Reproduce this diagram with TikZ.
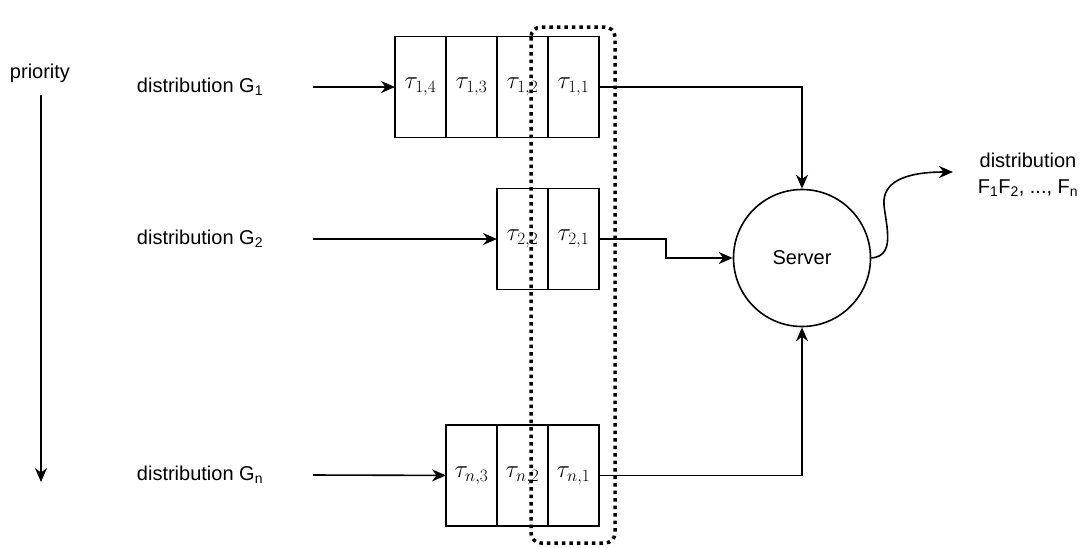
\documentclass[tikz,border=0pt]{standalone}
\usepackage{fontspec}
\setmainfont{Liberation Sans}
\usetikzlibrary{arrows.meta,positioning}

\begin{document}
\begin{tikzpicture}[x=1pt,y=-1pt,node distance=0pt,
  line width=1.6pt, >={Stealth[length=14pt,width=12pt]}]
\tikzstyle{cell}=[draw, outer sep=0pt, inner sep=0pt, minimum width=51pt,
  minimum height=101pt, font=\fontsize{24}{28}\selectfont]
\tikzstyle{lbl}=[font=\fontsize{20}{26}\selectfont, align=center]
\tikzstyle{win}=[line width=3.5pt, dash pattern=on 3.5pt off 4pt, rounded corners=10pt]
\useasboundingbox (0,0) rectangle (1083,547);
% queues
\node[cell] (q11) at (573.5,87) {$\tau_{1,1}$};
\node[cell, left=of q11] (q12) {$\tau_{1,2}$};
\node[cell, left=of q12] (q13) {$\tau_{1,3}$};
\node[cell, left=of q13] (q14) {$\tau_{1,4}$};
\node[cell] (q21) at (573.5,239) {$\tau_{2,1}$};
\node[cell, left=of q21] (q22) {$\tau_{2,2}$};
\node[cell] (qn1) at (573.5,475.5) {$\tau_{n,1}$};
\node[cell, left=of qn1] (qn2) {$\tau_{n,2}$};
\node[cell, left=of qn2] (qn3) {$\tau_{n,3}$};
% server
\node[draw, circle, minimum size=137pt, lbl] (srv) at (802,258) {Server};
% sources
\node[lbl] (g1) at (200,87) {distribution G\textsubscript{1}};
\node[lbl] (g2) at (200,239) {distribution G\textsubscript{2}};
\node[lbl] (gn) at (200,475) {distribution G\textsubscript{n}};
\coordinate (s1) at (313,87);
\coordinate (s2) at (313,239);
\coordinate (sn) at (313,475);
\draw[->] (s1) -- (q14);
\draw[->] (s2) -- (q22);
\draw[->] (sn) -- (qn3);
% priority
\node[lbl] (pr) at (40,73) {priority};
\coordinate (p0) at (41,95);
\coordinate (p1) at (41,482);
\draw[->] (p0) -- (p1);
% to server
\coordinate (b2) at (666,239);
\coordinate (c2) at (666,258);
\draw[->] (q11.east) -| (srv.north);
\draw[->] (q21.east) -- (b2) -- (c2) -- (srv.west);
\draw[->] (qn1.east) -| (srv.south);
% output
\coordinate (out) at (953,172);
\node[lbl] (res) at (1028,175) {distribution\\F\textsubscript{1}F\textsubscript{2}, ..., F\textsubscript{n}};
\draw[->] (srv.east) .. controls (896,256) and (886,226) .. (884,205)
  .. controls (882,182) and (905,172) .. (out);
% served window
\draw[win] (531,27) rectangle (615,543);
\end{tikzpicture}
\end{document}
